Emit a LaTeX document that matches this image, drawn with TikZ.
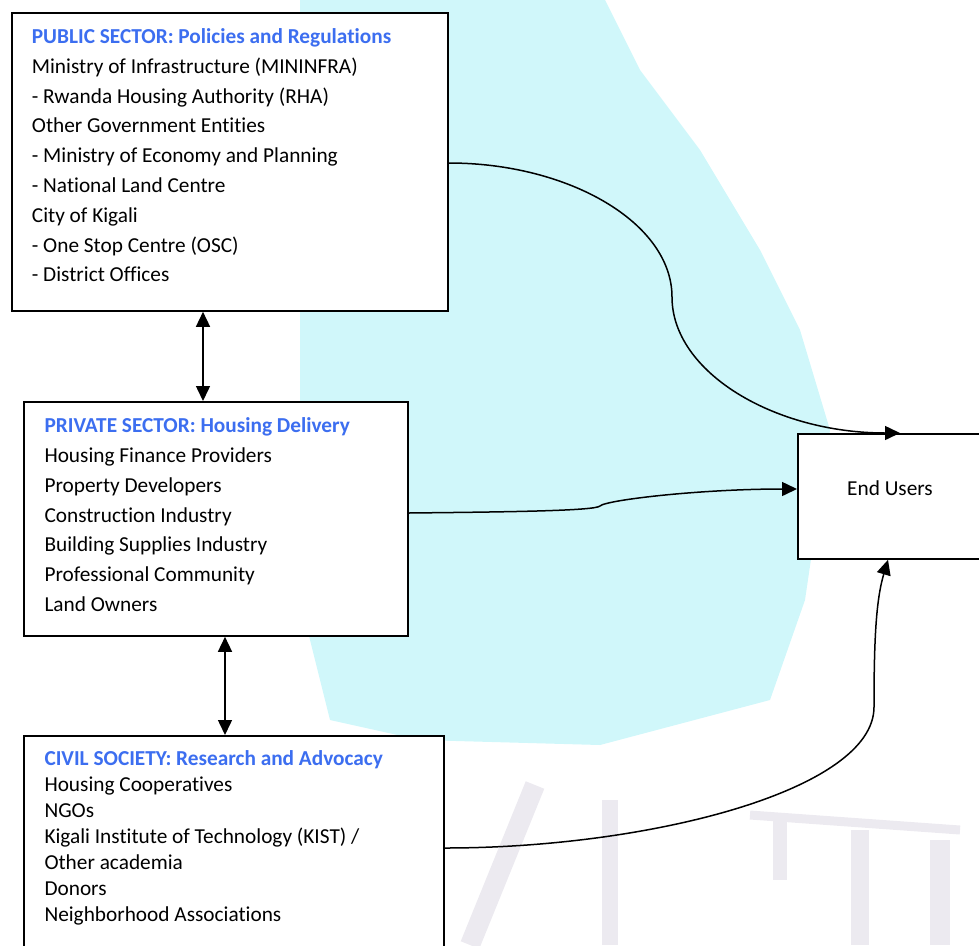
\documentclass[tikz,border=0pt]{standalone}
\usepackage{fontspec}
\setmainfont{Carlito}[Ligatures=NoCommon]
\usetikzlibrary{arrows.meta}
\definecolor{titleblue}{RGB}{60,110,240}
\definecolor{wmcyan}{RGB}{208,247,250}
\definecolor{wmgrey}{RGB}{236,234,240}
\begin{document}
\begin{tikzpicture}[x=1pt,y=-1pt,
  box/.style={draw=black,line width=1.8pt,fill=white,rectangle,inner sep=0pt,anchor=north west},
  txt/.style={anchor=base west,inner sep=0pt,font=\fontsize{21.3}{25}\selectfont},
  ttl/.style={txt,font=\fontsize{21.3}{25}\selectfont\bfseries,text=titleblue},
  link/.style={line width=1.5pt,-{Triangle[length=15pt,width=14pt]}},
  dbl/.style={line width=1.5pt,{Triangle[length=15pt,width=14pt]}-{Triangle[length=15pt,width=14pt]}}]
\useasboundingbox (0,0) rectangle (979,945);
\clip (0,0) rectangle (979,945);
% watermark (faint background)
\fill[wmcyan] (300,0) -- (605,0) -- (640,70) -- (700,150) -- (760,250) -- (800,330) -- (830,430)
  -- (805,600) -- (770,700) -- (600,745) -- (420,740) -- (330,720) -- (300,600) -- cycle;
\draw[wmgrey,line width=20pt] (535,785) -- (470,945);
\draw[wmgrey,line width=16pt] (610,800) -- (610,945);
\draw[wmgrey,line width=14pt] (780,820) -- (780,880);
\draw[wmgrey,line width=18pt] (860,830) -- (860,945);
\draw[wmgrey,line width=20pt] (940,840) -- (940,945);
\draw[wmgrey,line width=9pt] (750,815) -- (960,830);
% boxes
\node[box,minimum width=436pt,minimum height=298pt] (pub) at (11,12) {};
\node[box,minimum width=384pt,minimum height=234pt] (priv) at (23,401) {};
\node[box,minimum width=420pt,minimum height=240pt] (civ) at (23,735) {};
\node[box,minimum width=200pt,minimum height=125pt] (eu) at (797,433) {};
% texts
\node[ttl] (pubt) at (31.7,43.5) {PUBLIC SECTOR: Policies and Regulations};
\foreach \t [count=\i] in {Ministry of Infrastructure (MININFRA),
  - Rwanda Housing Authority (RHA), Other Government Entities,
  - Ministry of Economy and Planning, - National Land Centre,
  City of Kigali, - One Stop Centre (OSC), - District Offices}
  \node[txt] (pub-\i) at (31.7,43.5+29.8*\i) {\t};
\node[ttl] (privt) at (44.3,432.3) {PRIVATE SECTOR: Housing Delivery};
\foreach \t [count=\i] in {Housing Finance Providers, Property Developers,
  Construction Industry, Building Supplies Industry, Professional Community, Land Owners}
  \node[txt] (priv-\i) at (44.3,432.3+29.9*\i) {\t};
\node[ttl] (civt) at (44.3,765) {CIVIL SOCIETY: Research and Advocacy};
\foreach \t [count=\i] in {Housing Cooperatives, NGOs, Kigali Institute of Technology (KIST) /,
  Other academia, Donors, Neighborhood Associations}
  \node[txt] (civ-\i) at (44.3,765+26.1*\i) {\t};
\node[txt] (eut) at (847,495.7) {End Users};
% connector anchors
\coordinate (x1) at (203,0);
\coordinate (x2) at (225,0);
\coordinate (x3) at (900,0);
\coordinate (x4) at (888,0);
\coordinate (y1) at (0,163);
\coordinate (y2) at (0,513);
\coordinate (y3) at (0,489);
\coordinate (y4) at (0,848);
% connectors
\draw[dbl] (pub.south -| x1) -- (priv.north -| x1);
\draw[dbl] (priv.south -| x2) -- (civ.north -| x2);
\draw[link] (pub.east |- y1) .. controls (569,163) and (672,223) .. (672,297)
  .. controls (672,372) and (774,433) .. (eu.north -| x3);
\draw[link] (priv.east |- y2) .. controls (500,512) and (595,511) .. (600,506)
  .. controls (606,500) and (700,489) .. (eu.west |- y3);
\draw[link] (civ.east |- y4) .. controls (650,848) and (874,790) .. (874,707)
  .. controls (874,640) and (876,600) .. (eu.south -| x4);
\end{tikzpicture}
\end{document}
